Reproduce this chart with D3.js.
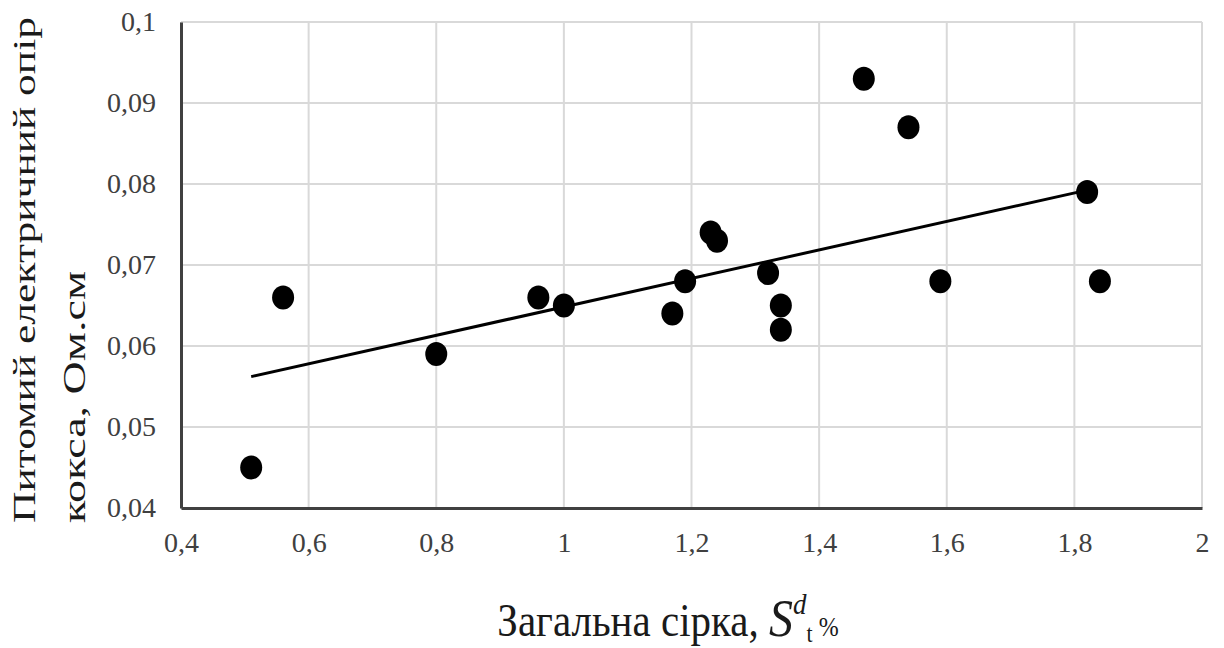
<!DOCTYPE html>
<html lang="uk">
<head>
<meta charset="utf-8">
<title>Питомий електричний опір коксу</title>
<script src="https://cdn.jsdelivr.net/npm/d3@7"></script>
<style>
  body { margin: 0; background: #fff; }
  svg { display: block; }
  text { font-family: "Liberation Serif", "Times New Roman", Times, serif; }
  .tick text { fill: #404040; }
</style>
</head>
<body>
<script>
// загальна сірка, %
var sulfur = [0.51, 0.56, 0.80, 0.96, 1.00, 1.17, 1.19, 1.23, 1.24, 1.32, 1.34, 1.34, 1.47, 1.54, 1.59, 1.82, 1.84];
// питомий опір, Ом.см
var resist = [0.045, 0.066, 0.059, 0.066, 0.065, 0.064, 0.068, 0.074, 0.073, 0.069, 0.065, 0.062, 0.093, 0.087, 0.068, 0.079, 0.068];
var xTicks = [0.4, 0.6, 0.8, 1, 1.2, 1.4, 1.6, 1.8, 2];
var yTicks = [0.04, 0.05, 0.06, 0.07, 0.08, 0.09, 0.1];
var trendRange = [0.51, 1.82];

var w = 1224, h = 648;
var pLeft = 181, pRight = 1202, pTop = 22, pBottom = 508;

var fmt = function(d) { return String(d).replace(".", ","); };

var xScale = d3.scaleLinear().domain([0.4, 2]).range([pLeft, pRight]);
var yScale = d3.scaleLinear().domain([0.04, 0.1]).range([pBottom, pTop]);

var svg = d3.select("body").append("svg")
    .attr("width", w)
    .attr("height", h);

// grid
svg.append("g")
    .selectAll("line")
    .data(xTicks)
    .enter().append("line")
    .attr("x1", function(d) { return xScale(d); })
    .attr("x2", function(d) { return xScale(d); })
    .attr("y1", pTop).attr("y2", pBottom)
    .attr("stroke", "#d9d9d9").attr("stroke-width", 2);

svg.append("g")
    .selectAll("line")
    .data(yTicks)
    .enter().append("line")
    .attr("x1", pLeft).attr("x2", pRight)
    .attr("y1", function(d) { return yScale(d); })
    .attr("y2", function(d) { return yScale(d); })
    .attr("stroke", "#d9d9d9").attr("stroke-width", 2);

// axes
var xAxis = d3.axisBottom(xScale).tickValues(xTicks).tickFormat(fmt).tickSize(0).tickPadding(30);
var yAxis = d3.axisLeft(yScale).tickValues(yTicks).tickFormat(fmt).tickSize(0).tickPadding(25);

var gx = svg.append("g")
    .attr("transform", "translate(0," + pBottom + ")")
    .call(xAxis);
gx.attr("font-family", null);
gx.select(".domain").attr("stroke", "#404040").attr("stroke-width", 3);
gx.selectAll("text").attr("font-size", 28).attr("dy", "0.5em");

var gy = svg.append("g")
    .attr("transform", "translate(" + pLeft + ",0)")
    .call(yAxis);
gy.attr("font-family", null);
gy.select(".domain").attr("stroke", "#404040").attr("stroke-width", 3);
gy.selectAll("text").attr("font-size", 28);

// trend line (least squares)
var mx = d3.mean(sulfur), my = d3.mean(resist);
var sxy = d3.sum(sulfur, function(d, i) { return (d - mx) * (resist[i] - my); });
var sxx = d3.sum(sulfur, function(d) { return (d - mx) * (d - mx); });
var slope = sxy / sxx, icpt = my - slope * mx;

var line = d3.line()
    .x(function(d) { return xScale(d); })
    .y(function(d) { return yScale(icpt + slope * d); });

svg.append("path")
    .datum(trendRange)
    .attr("d", line)
    .attr("fill", "none")
    .attr("stroke", "#000")
    .attr("stroke-width", 3);

// points
svg.selectAll("ellipse")
    .data(sulfur)
    .enter()
    .append("ellipse")
    .attr("cx", function(d) { return xScale(d); })
    .attr("cy", function(d, i) { return yScale(resist[i]); })
    .attr("rx", 11)
    .attr("ry", 12)
    .attr("fill", "#000");

// y title (picture is stretched vertically, so stretch along the text)
var yt = svg.append("text")
    .attr("transform", "translate(0,523) rotate(-90)")
    .attr("font-size", 31)
    .attr("fill", "#1a1a1a");
yt.append("tspan").attr("x", 0).attr("y", 35)
    .attr("textLength", 506).attr("lengthAdjust", "spacingAndGlyphs")
    .text("Питомий електричний опір");
yt.append("tspan").attr("x", 0).attr("y", 85)
    .attr("textLength", 252).attr("lengthAdjust", "spacingAndGlyphs")
    .text("кокса, Ом.см");

// x title
var xt = svg.append("g")
    .attr("transform", "translate(668,636) scale(1,1.12)")
  .append("text")
    .attr("text-anchor", "middle")
    .attr("font-size", 41)
    .attr("fill", "#1a1a1a");
xt.append("tspan").text("Загальна сірка,  ");
xt.append("tspan").attr("font-style", "italic").attr("font-size", 48).text("S");
xt.append("tspan").attr("font-style", "italic").attr("font-size", 27).attr("dy", -20).text("d");
xt.append("tspan").attr("font-size", 22).attr("dy", 25).text("t");
xt.append("tspan").attr("font-size", 24).attr("dy", -5).text(" %");
</script>
</body>
</html>
